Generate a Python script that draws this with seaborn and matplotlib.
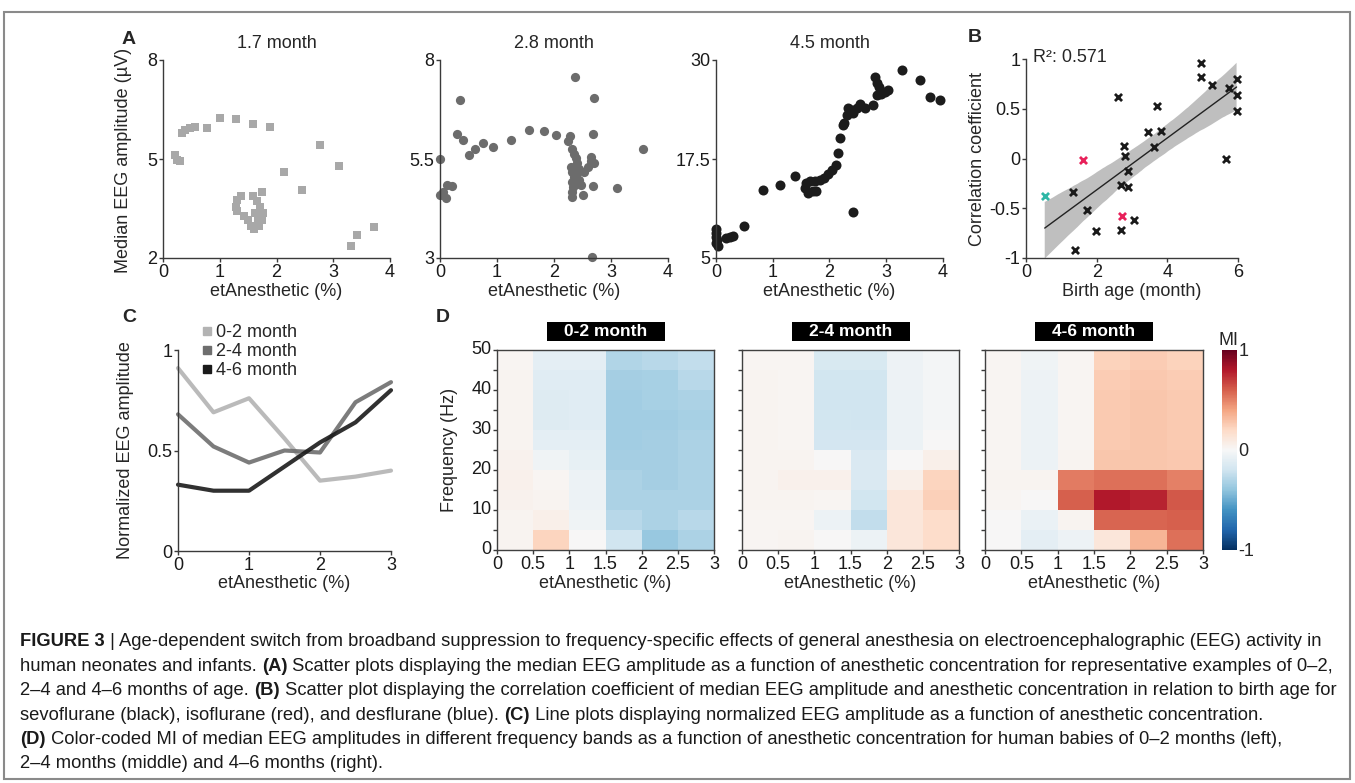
import numpy as np
import pandas as pd
import matplotlib
matplotlib.use('Agg')
import matplotlib.pyplot as plt
import seaborn as sns
from matplotlib import font_manager
from matplotlib.patches import Rectangle
from matplotlib.lines import Line2D

# ---------------- DATA ----------------
# Panel A: median EEG amplitude (uV) vs etAnesthetic (%)
a1_conc = [0.24, 0.21, 0.30, 0.33, 0.39, 0.48, 0.57, 0.77, 1.01, 1.28, 1.58, 1.88, 2.77, 3.10, 2.14, 2.45,
           1.31, 1.37, 1.28, 1.31, 1.43, 1.49, 1.55, 1.61, 1.70, 1.74, 1.76, 1.71, 1.65, 1.58, 1.74, 1.62, 1.67,
           3.32, 3.41, 3.71]
a1_amp = [4.98, 5.13, 4.93, 5.78, 5.88, 5.93, 5.98, 5.93, 6.24, 6.21, 6.06, 5.98, 5.41, 4.79, 4.60, 4.05,
          3.77, 3.87, 3.56, 3.41, 3.26, 3.14, 2.96, 2.88, 2.98, 3.16, 3.36, 3.54, 3.72, 3.89, 3.99, 3.36, 3.21,
          2.35, 2.71, 2.94]

a2_conc = [0.00, 0.00, 0.06, 0.11, 0.13, 0.21, 0.35, 0.29, 0.41, 0.50, 0.62, 0.75, 0.93, 1.25, 1.56, 1.82,
           2.04, 2.24, 2.28, 2.37, 2.71, 2.69, 3.56, 3.11, 2.68, 2.51, 2.66,
           2.32, 2.35, 2.38, 2.40, 2.29, 2.32, 2.35, 2.31, 2.34, 2.31, 2.32, 2.41, 2.44, 2.47, 2.38, 2.53,
           2.59, 2.65, 2.71, 2.65, 2.44]
a2_amp = [5.49, 4.58, 4.66, 4.51, 4.85, 4.81, 7.00, 6.14, 5.99, 5.59, 5.75, 5.90, 5.80, 5.98, 6.24, 6.20,
          6.11, 5.96, 6.07, 7.57, 7.03, 6.12, 5.75, 4.77, 4.81, 4.60, 3.02,
          5.75, 5.62, 5.53, 5.40, 5.31, 5.18, 5.05, 4.92, 4.79, 4.66, 4.53, 5.14, 4.97, 4.84, 4.88, 5.18,
          5.31, 5.44, 5.40, 5.56, 5.24]

a3_conc = [0.00, 0.00, 0.00, 0.02, 0.04, 0.00, 0.18, 0.25, 0.30, 0.50, 0.82, 1.13, 1.40, 1.57, 1.62, 1.71,
           1.77, 1.59, 1.65, 1.74, 1.83, 1.90, 1.98, 2.04, 2.11, 2.15, 2.19, 2.23, 2.26, 2.30, 2.33, 2.39,
           2.42, 2.48, 2.53, 2.62, 2.77, 2.80, 2.84, 2.87, 2.84, 2.91, 2.97, 3.03, 2.41, 3.28, 3.59, 3.77, 3.94]
a3_amp = [8.66, 8.15, 7.65, 7.31, 6.55, 6.89, 7.52, 7.65, 7.82, 9.00, 13.6, 14.2, 15.3, 13.8, 13.2, 13.4,
          13.5, 14.5, 14.7, 14.7, 14.9, 15.1, 15.6, 16.1, 16.8, 18.2, 20.1, 21.8, 22.1, 23.1, 23.9, 23.7,
          23.3, 24.0, 24.5, 23.9, 24.3, 27.9, 27.1, 26.6, 25.6, 25.7, 26.0, 26.2, 10.8, 28.7, 27.5, 25.3, 24.9]

a_titles = ['1.7 month', '2.8 month', '4.5 month']
a1_yticks, a1_yticklabels = [2, 5, 8], ['2', '5', '8']
a2_yticks, a2_yticklabels = [3, 5.5, 8], ['3', '5.5', '8']
a3_yticks, a3_yticklabels = [5, 17.5, 30], ['5', '17.5', '30']
a_xticks = [0, 1, 2, 3, 4]

# Panel B: correlation coefficient vs birth age (month)
b_sevo_age = [1.38, 1.98, 2.70, 3.06, 1.74, 1.34, 2.70, 2.89, 2.89, 2.79, 2.77, 3.61, 3.46, 3.82, 3.72, 2.60,
              4.95, 4.95, 5.26, 5.96, 5.75, 5.96, 5.96, 5.66]
b_sevo_r = [-0.92, -0.73, -0.72, -0.62, -0.52, -0.34, -0.27, -0.29, -0.13, 0.03, 0.13, 0.12, 0.27, 0.28, 0.53, 0.62,
            0.96, 0.82, 0.74, 0.80, 0.71, 0.64, 0.48, -0.01]
b_iso_age = [1.60, 2.72]
b_iso_r = [-0.02, -0.58]
b_des_age = [0.53]
b_des_r = [-0.38]
b_r2_text = 'R²: 0.571'

# Panel C: normalized EEG amplitude
c_conc = [0, 0.5, 1, 1.5, 2, 2.5, 3]
c_groups = ['0-2 month', '2-4 month', '4-6 month']
c_0_2 = [0.91, 0.69, 0.76, 0.56, 0.35, 0.37, 0.40]
c_2_4 = [0.68, 0.52, 0.44, 0.50, 0.49, 0.74, 0.84]
c_4_6 = [0.33, 0.30, 0.30, 0.42, 0.54, 0.64, 0.80]

# Panel D: MI per frequency band (rows 0-5 Hz ... 45-50 Hz) x concentration bin (0-0.5 ... 2.5-3 %)
d_conc_labels = ['0', '0.5', '1', '1.5', '2', '2.5', '3']
d_freq_ticks = [0, 10, 20, 30, 40, 50]
d_titles = ['0-2 month', '2-4 month', '4-6 month']
d_mi_0_2 = [
    [0.03, 0.22, 0.00, -0.20, -0.38, -0.32],
    [0.03, 0.06, -0.04, -0.28, -0.32, -0.28],
    [0.04, 0.03, -0.06, -0.32, -0.32, -0.32],
    [0.05, 0.02, -0.06, -0.32, -0.34, -0.32],
    [0.04, -0.04, -0.08, -0.34, -0.34, -0.32],
    [0.03, -0.10, -0.10, -0.35, -0.34, -0.32],
    [0.03, -0.13, -0.12, -0.35, -0.35, -0.33],
    [0.03, -0.13, -0.12, -0.35, -0.33, -0.32],
    [0.03, -0.12, -0.12, -0.34, -0.33, -0.28],
    [0.02, -0.10, -0.10, -0.30, -0.28, -0.25],
]
d_mi_2_4 = [
    [0.02, 0.03, 0.00, -0.06, 0.12, 0.18],
    [0.02, 0.02, -0.06, -0.25, 0.12, 0.18],
    [0.03, 0.03, 0.02, -0.19, 0.12, 0.24],
    [0.03, 0.05, 0.05, -0.15, 0.06, 0.22],
    [0.03, 0.03, 0.00, -0.15, 0.00, 0.06],
    [0.03, 0.02, -0.18, -0.18, -0.06, 0.00],
    [0.03, 0.02, -0.19, -0.20, -0.06, -0.02],
    [0.03, 0.02, -0.20, -0.20, -0.06, -0.02],
    [0.03, 0.02, -0.19, -0.19, -0.05, -0.02],
    [0.02, 0.02, -0.16, -0.16, -0.05, -0.02],
]
d_mi_4_6 = [
    [0.00, -0.10, -0.05, 0.12, 0.34, 0.55],
    [0.00, -0.07, 0.03, 0.58, 0.58, 0.60],
    [0.02, 0.00, 0.60, 0.80, 0.77, 0.62],
    [0.03, 0.03, 0.52, 0.55, 0.55, 0.50],
    [0.02, -0.06, 0.03, 0.28, 0.28, 0.27],
    [0.02, -0.06, 0.02, 0.26, 0.28, 0.26],
    [0.02, -0.06, 0.02, 0.26, 0.28, 0.26],
    [0.02, -0.06, 0.02, 0.26, 0.28, 0.26],
    [0.02, -0.05, 0.02, 0.25, 0.27, 0.25],
    [0.02, -0.04, 0.02, 0.23, 0.25, 0.23],
]
cb_ticks, cb_ticklabels = [-1, 0, 1], ['-1', '0', '1']

caption_lines = [
    [("FIGURE 3", True), (" | Age-dependent switch from broadband suppression to frequency-specific effects of general anesthesia on electroencephalographic (EEG) activity in", False)],
    [("human neonates and infants. ", False), ("(A)", True), (" Scatter plots displaying the median EEG amplitude as a function of anesthetic concentration for representative examples of 0–2,", False)],
    [("2–4 and 4–6 months of age. ", False), ("(B)", True), (" Scatter plot displaying the correlation coefficient of median EEG amplitude and anesthetic concentration in relation to birth age for", False)],
    [("sevoflurane (black), isoflurane (red), and desflurane (blue). ", False), ("(C)", True), (" Line plots displaying normalized EEG amplitude as a function of anesthetic concentration.", False)],
    [("(D)", True), (" Color-coded MI of median EEG amplitudes in different frequency bands as a function of anesthetic concentration for human babies of 0–2 months (left),", False)],
    [("2–4 months (middle) and 4–6 months (right).", False)],
]

# ---------------- FIGURE ----------------
W, H = 1355, 783
sns.set_theme(style='ticks')
plt.rcParams['font.family'] = ['Liberation Sans', 'DejaVu Sans']
plt.rcParams['axes.unicode_minus'] = False

fig = plt.figure(figsize=(W / 100, H / 100), dpi=100)
fig.patch.set_facecolor('white')


def rect(x0, y0, x1, y1):
    return [x0 / W, 1 - y1 / H, (x1 - x0) / W, (y1 - y0) / H]


def ftext(x, y, s, **kw):
    return fig.text(x / W, 1 - y / H, s, **kw)


SPC = '#3a3a3a'
FS = 13


def style(ax):
    sns.despine(ax=ax)
    for sp in ['left', 'bottom']:
        ax.spines[sp].set_color(SPC)
        ax.spines[sp].set_linewidth(1.0)
    ax.tick_params(direction='out', length=3, width=1, color=SPC, labelsize=FS, pad=1,
                   labelcolor='#1a1a1a')
    ax.set_xlabel('')
    ax.set_ylabel('')
    ax.set_facecolor('none')


# frame
fig.patches.append(Rectangle((4 / W, 1 - 779 / H), 1346 / W, 767 / H, transform=fig.transFigure,
                             fill=False, ec='#8a8a8a', lw=1.5))

# ---- Panel A ----
a_sets = [
    (a1_conc, a1_amp, 163, 390, a1_yticks, a1_yticklabels, '#a8a8a8', 's', 36),
    (a2_conc, a2_amp, 440, 668, a2_yticks, a2_yticklabels, '#6c6c6c', 'o', 44),
    (a3_conc, a3_amp, 716, 943, a3_yticks, a3_yticklabels, '#1c1c1c', 'o', 52),
]
for i, (xc, ya, x0, x1, yt, ytl, col, mk, sz) in enumerate(a_sets):
    ax = fig.add_axes(rect(x0, 60, x1, 258))
    sns.scatterplot(x=xc, y=ya, ax=ax, color=col, marker=mk, s=sz, linewidth=0, clip_on=False,
                    legend=False)
    ax.set_xlim(0, 4)
    ax.set_ylim(yt[0], yt[-1])
    ax.set_xticks(a_xticks)
    ax.set_xticklabels([str(t) for t in a_xticks])
    ax.set_yticks(yt)
    ax.set_yticklabels(ytl)
    style(ax)
    cx = (x0 + x1) / 2
    ftext(cx, 43, a_titles[i], ha='center', va='center', fontsize=FS)
    ftext(cx, 292, 'etAnesthetic (%)', ha='center', va='center', fontsize=FS)

ftext(124, 160, 'Median EEG amplitude (µV)', ha='center', va='center', rotation=90, fontsize=FS)
ftext(129, 40, 'A', ha='center', va='center', fontsize=14, fontweight='bold')

# ---- Panel B ----
axb = fig.add_axes(rect(1026, 59, 1238, 258))
df_b = pd.DataFrame({'age': np.r_[b_sevo_age, b_iso_age, b_des_age],
                     'r': np.r_[b_sevo_r, b_iso_r, b_des_r]})
sns.regplot(data=df_b, x='age', y='r', ax=axb, scatter=False, ci=95, seed=0, color='#888888',
            line_kws=dict(color='#222222', lw=1.0))
for coll in axb.collections:
    coll.set_facecolor('#b4b4b4')
    coll.set_alpha(0.85)
    coll.set_edgecolor('none')
for ages, rs, col in [(b_sevo_age, b_sevo_r, '#1a1a1a'), (b_iso_age, b_iso_r, '#e8215a'),
                      (b_des_age, b_des_r, '#2fb7a6')]:
    sns.scatterplot(x=ages, y=rs, ax=axb, marker='x', color=col, s=26, linewidth=2.0, legend=False,
                    clip_on=False, zorder=4)
axb.set_xlim(0, 6)
axb.set_ylim(-1, 1)
axb.set_xticks([0, 2, 4, 6])
axb.set_xticklabels(['0', '2', '4', '6'])
axb.set_yticks([-1, -0.5, 0, 0.5, 1])
axb.set_yticklabels(['-1', '-0.5', '0', '0.5', '1'])
style(axb)
ftext(1033, 58, b_r2_text, ha='left', va='center', fontsize=FS)
ftext(977, 159, 'Correlation coefficient', ha='center', va='center', rotation=90, fontsize=FS)
ftext(1132, 292, 'Birth age (month)', ha='center', va='center', fontsize=FS)
ftext(975, 38, 'B', ha='center', va='center', fontsize=14, fontweight='bold')

# ---- Panel C ----
axc = fig.add_axes(rect(178, 350, 391, 551))
c_colors = ['#b3b3b3', '#6e6e6e', '#1a1a1a']
df_c = pd.DataFrame({'conc': np.tile(c_conc, 3),
                     'amp': np.r_[c_0_2, c_2_4, c_4_6],
                     'group': np.repeat(c_groups, len(c_conc))})
sns.lineplot(data=df_c, x='conc', y='amp', hue='group', palette=dict(zip(c_groups, c_colors)),
             lw=3.0, alpha=0.9, ax=axc, legend=False, solid_joinstyle='round',
             solid_capstyle='round', clip_on=False)
axc.set_xlim(0, 3)
axc.set_ylim(0, 1)
axc.set_xticks([0, 1, 2, 3])
axc.set_xticklabels(['0', '1', '2', '3'])
axc.set_yticks([0, 0.5, 1])
axc.set_yticklabels(['0', '0.5', '1'])
style(axc)
handles = [Line2D([], [], marker='s', ls='', color=c, markersize=5.5) for c in c_colors]
axc.legend(handles, c_groups, loc='upper left', bbox_to_anchor=(0.10, 1.13), frameon=False,
           fontsize=FS, handletextpad=0.15, labelspacing=0.12, handlelength=0.8, borderpad=0,
           borderaxespad=0)
ftext(125, 450, 'Normalized EEG amplitude', ha='center', va='center', rotation=90, fontsize=FS)
ftext(284, 583, 'etAnesthetic (%)', ha='center', va='center', fontsize=FS)
ftext(129, 318, 'C', ha='center', va='center', fontsize=14, fontweight='bold')

# ---- Panel D ----
d_sets = [(d_mi_0_2, 497, 714), (d_mi_2_4, 742, 959), (d_mi_4_6, 985, 1203)]
axes_d = []
for i, (mat, x0, x1) in enumerate(d_sets):
    ax = fig.add_axes(rect(x0, 350, x1, 550))
    arr = np.array(mat)[::-1]
    sns.heatmap(arr, cmap='RdBu_r', vmin=-1, vmax=1, cbar=False, ax=ax)
    nrow = arr.shape[0]
    ax.set_xticks(np.arange(len(d_conc_labels)))
    ax.set_xticklabels(d_conc_labels, rotation=0)
    ax.set_yticks([nrow - f / 5 for f in d_freq_ticks])
    if i == 0:
        ax.set_yticklabels([str(f) for f in d_freq_ticks], rotation=0)
    else:
        ax.set_yticklabels([])
    ax.set_yticks([nrow - f / 5 for f in [5, 15, 25, 35, 45]], minor=True)
    for sp in ax.spines.values():
        sp.set_visible(True)
        sp.set_color('#404040')
        sp.set_linewidth(1.0)
    ax.tick_params(which='both', direction='out', length=3, width=1, color=SPC, labelsize=FS,
                   pad=1, labelcolor='#1a1a1a', left=True, bottom=True)
    ax.set_xlabel('')
    ax.set_ylabel('')
    axes_d.append(ax)
    cx = (x0 + x1) / 2
    fig.patches.append(Rectangle(((cx - 59) / W, 1 - 341 / H), 118 / W, 19 / H,
                                 transform=fig.transFigure, fc='black', ec='none'))
    ftext(cx, 332, d_titles[i], ha='center', va='center', color='white', fontsize=12.5,
          fontweight='bold')
    ftext(cx, 583, 'etAnesthetic (%)', ha='center', va='center', fontsize=FS)

cax = fig.add_axes(rect(1222, 350, 1237, 550))
cb = fig.colorbar(axes_d[-1].collections[0], cax=cax, ticks=cb_ticks)
cb.ax.set_yticklabels(cb_ticklabels)
cb.ax.tick_params(length=0, labelsize=FS, pad=1)
cb.outline.set_visible(False)
ftext(1229, 340, 'MI', ha='center', va='center', fontsize=FS)
ftext(449, 450, 'Frequency (Hz)', ha='center', va='center', rotation=90, fontsize=FS)
ftext(443, 318, 'D', ha='center', va='center', fontsize=14, fontweight='bold')

# ---- Caption ----
names = {f.name for f in font_manager.fontManager.ttflist}
cap_family = ['Liberation Sans Narrow', 'DejaVu Sans'] if 'Liberation Sans Narrow' in names \
    else ['Liberation Sans', 'DejaVu Sans']
renderer = fig.canvas.get_renderer()


def draw_line(segs, x, y, size, measure_only=False):
    arts = []
    for s, bold in segs:
        t = ftext(x, y, s, ha='left', va='baseline', fontsize=size, family=cap_family,
                  fontweight='bold' if bold else 'normal', color='#1a1a1a')
        w = t.get_window_extent(renderer).width
        x += w
        arts.append(t)
    if measure_only:
        for t in arts:
            t.remove()
    return x


end = draw_line(caption_lines[0], 20, 646, 11, measure_only=True)
cap_size = 11 * (1318 - 20) / (end - 20)
baselines = [646, 671, 695, 720, 744, 768]
for segs, yb in zip(caption_lines, baselines):
    draw_line(segs, 20, yb, cap_size)

fig.savefig('out.png', dpi=100, facecolor='white')
